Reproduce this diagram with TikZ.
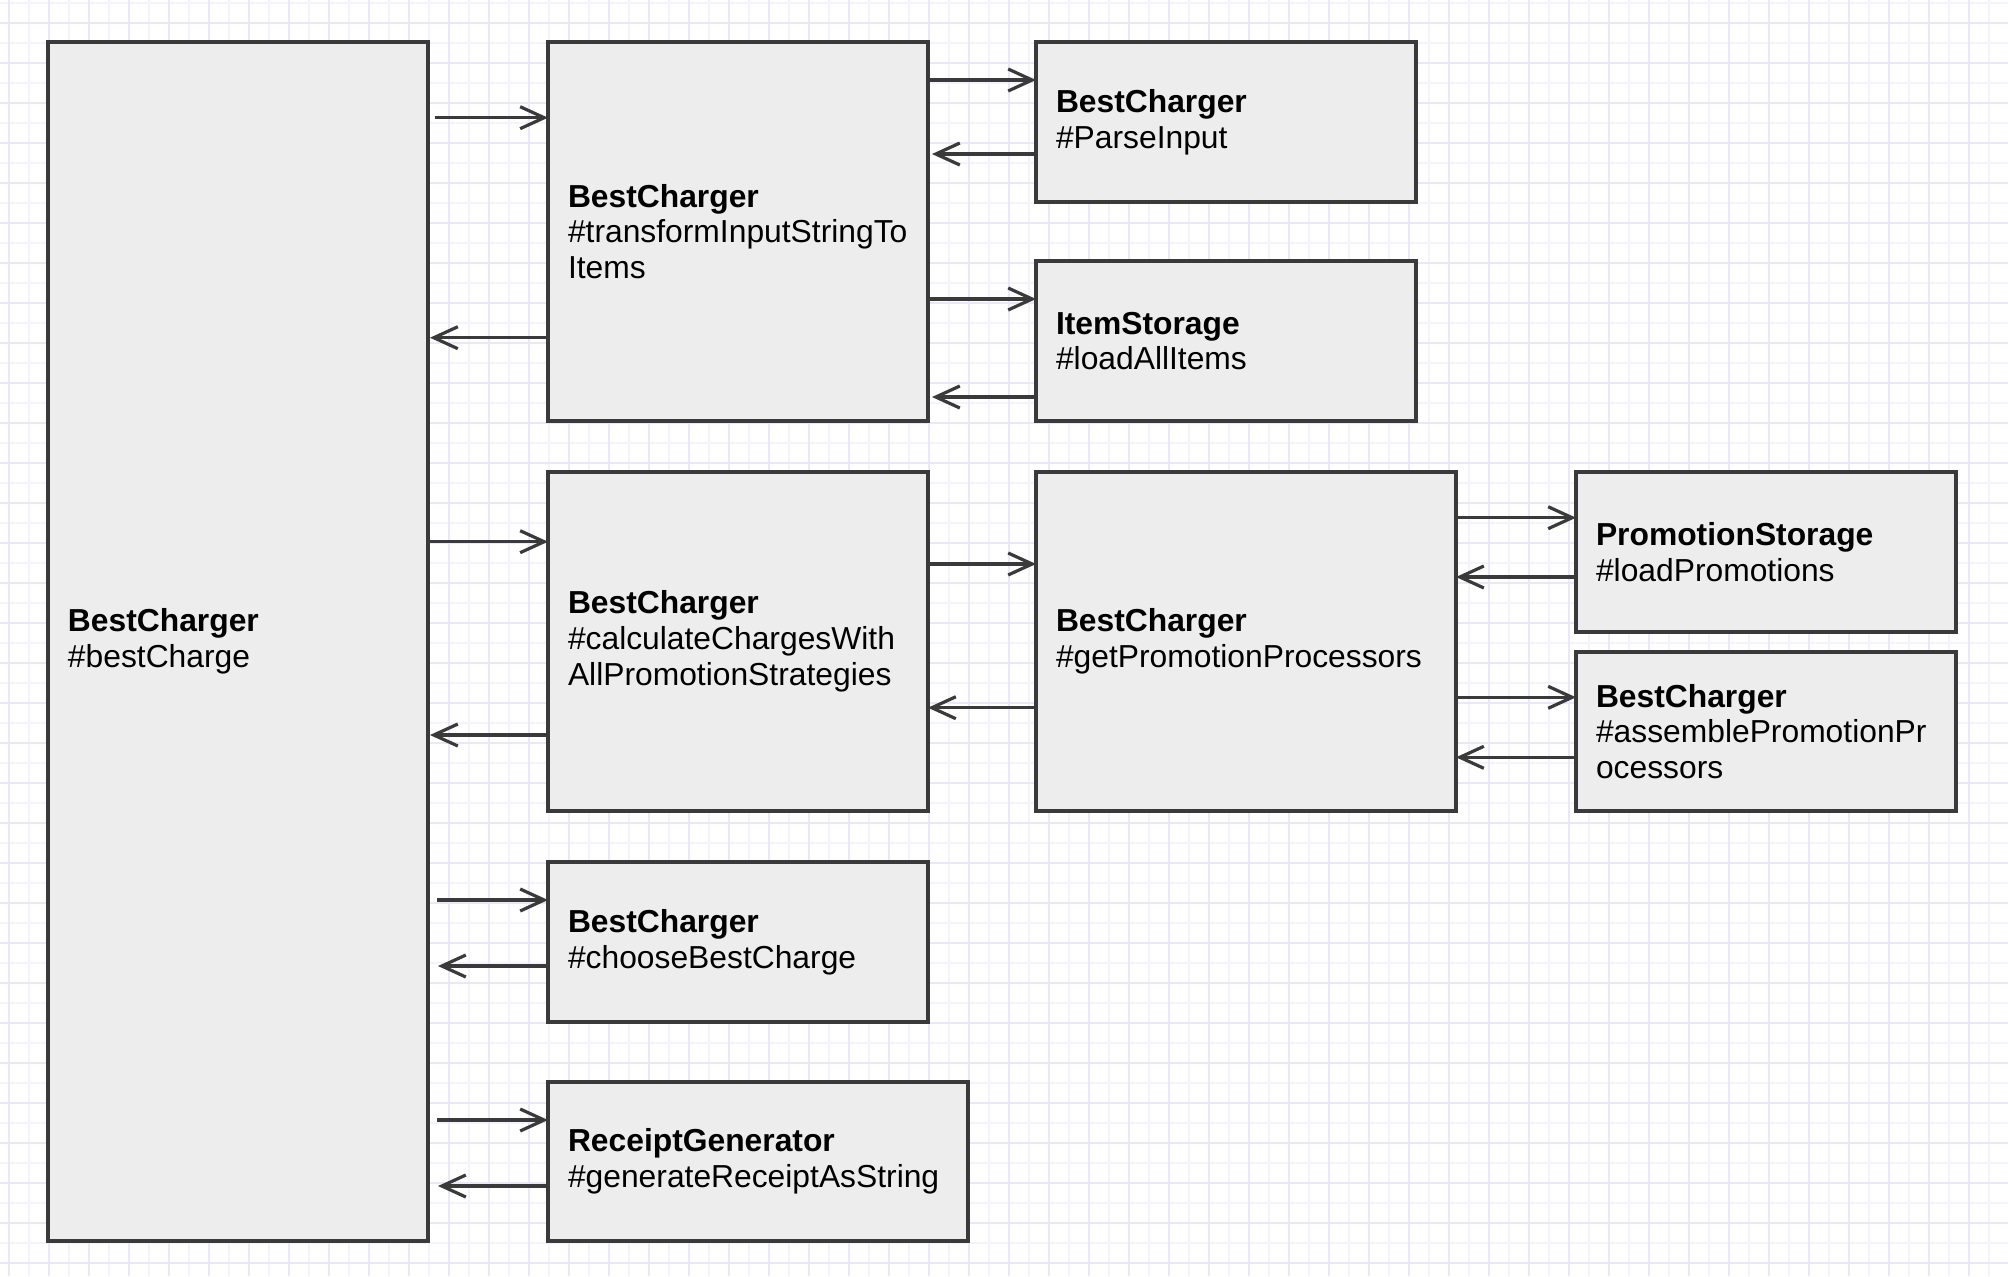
\documentclass[tikz,border=0pt]{standalone}
\usepackage{fontspec}
\setmainfont{Liberation Sans}
\usepackage{xcolor}
\usetikzlibrary{arrows.meta, calc}
\definecolor{boxline}{HTML}{3A3A3A}
\definecolor{boxfill}{HTML}{EDEDED}
\definecolor{gridmajor}{HTML}{E8E8FA}
\definecolor{gridminor}{HTML}{F3F3FD}

\begin{document}
\begin{tikzpicture}[x=0.5pt, y=-0.5pt, font=\fontsize{15.9}{17.9}\selectfont]
	\tikzset{
		method/.style={draw=boxline, fill=boxfill, line width=1.6pt, outer sep=0pt, inner xsep=10pt, inner ysep=0pt, anchor=north west, align=left, minimum width=190pt, text width=170pt},
		wide/.style={minimum width=210pt, text width=190pt},
		call/.style={draw=boxline, line width=1.6pt, -{Straight Barb[length=12pt, width=11pt]}},
		gridline/.style={line width=0.9pt},
	}

	\useasboundingbox (0,0) rectangle (2008,1276);
	\fill[white] (0,0) rectangle (2008,1276);
	\foreach \x in {9,29,...,2008} \draw[gridline, gridminor] (\x,0) -- (\x,1276);
	\foreach \y in {2.7,22.7,...,1276} \draw[gridline, gridminor] (0,\y) -- (2008,\y);
	\foreach \x in {9,49,...,2008} \draw[gridline, gridmajor] (\x,0) -- (\x,1276);
	\foreach \y in {22.7,62.7,...,1276} \draw[gridline, gridmajor] (0,\y) -- (2008,\y);

	\node[method, minimum height=599.5pt] (main) at (48,42) {\textbf{BestCharger}\\\#bestCharge};
	\node[method, minimum height=189.5pt] (transform) at (548,42) {\textbf{BestCharger}\\\#transformInputStringTo\\Items};
	\node[method, minimum height=80pt] (parse) at (1036,42) {\textbf{BestCharger}\\\#ParseInput};
	\node[method, minimum height=80pt] (itemstore) at (1036,261) {\textbf{ItemStorage}\\\#loadAllItems};
	\node[method, minimum height=169.5pt] (calc) at (548,472) {\textbf{BestCharger}\\\#calculateChargesWith\\AllPromotionStrategies};
	\node[method, wide, minimum height=169.5pt] (getpp) at (1036,472) {\textbf{BestCharger}\\\#getPromotionProcessors};
	\node[method, minimum height=80pt] (promostore) at (1576,472) {\textbf{PromotionStorage}\\\#loadPromotions};
	\node[method, minimum height=79.5pt] (assemble) at (1576,652) {\textbf{BestCharger}\\\#assemblePromotionPr\\ocessors};
	\node[method, minimum height=80pt] (choose) at (548,862) {\textbf{BestCharger}\\\#chooseBestCharge};
	\node[method, wide, minimum height=79.5pt] (receipt) at (548,1082) {\textbf{ReceiptGenerator}\\\#generateReceiptAsString};

	\path (transform.north west) ++(0,75.7) coordinate (t1);
	\path (transform.north west) ++(0,295.7) coordinate (t2);
	\draw[call, shorten <=3.5pt] (main.east |- t1) -- (t1);
	\draw[call, shorten >=1pt] (t2) -- (main.east |- t2);

	\path (parse.north west) ++(0,38) coordinate (p1);
	\path (parse.north west) ++(0,112) coordinate (p2);
	\draw[call] (transform.east |- p1) -- (p1);
	\draw[call, shorten >=2pt] (p2) -- (transform.east |- p2);

	\path (itemstore.north west) ++(0,38) coordinate (i1);
	\path (itemstore.north west) ++(0,136) coordinate (i2);
	\draw[call] (transform.east |- i1) -- (i1);
	\draw[call, shorten >=2pt] (i2) -- (transform.east |- i2);

	\path (calc.north west) ++(0,69.7) coordinate (c1);
	\path (calc.north west) ++(0,263) coordinate (c2);
	\draw[call] (main.east |- c1) -- (c1);
	\draw[call, shorten >=1pt] (c2) -- (main.east |- c2);

	\path (getpp.north west) ++(0,92) coordinate (g1);
	\path (getpp.north west) ++(0,235.7) coordinate (g2);
	\draw[call] (calc.east |- g1) -- (g1);
	\draw[call] (g2) -- (calc.east |- g2);

	\path (promostore.north west) ++(0,45.7) coordinate (s1);
	\path (promostore.north west) ++(0,105) coordinate (s2);
	\draw[call] (getpp.east |- s1) -- (s1);
	\draw[call] (s2) -- (getpp.east |- s2);

	\path (assemble.north west) ++(0,45.3) coordinate (a1);
	\path (assemble.north west) ++(0,105.3) coordinate (a2);
	\draw[call] (getpp.east |- a1) -- (a1);
	\draw[call] (a2) -- (getpp.east |- a2);

	\path (choose.north west) ++(0,38) coordinate (b1);
	\path (choose.north west) ++(0,104) coordinate (b2);
	\draw[call, shorten <=4.5pt] (main.east |- b1) -- (b1);
	\draw[call, shorten >=5pt] (b2) -- (main.east |- b2);

	\path (receipt.north west) ++(0,38) coordinate (r1);
	\path (receipt.north west) ++(0,104) coordinate (r2);
	\draw[call, shorten <=4.5pt] (main.east |- r1) -- (r1);
	\draw[call, shorten >=5pt] (r2) -- (main.east |- r2);
\end{tikzpicture}
\end{document}
